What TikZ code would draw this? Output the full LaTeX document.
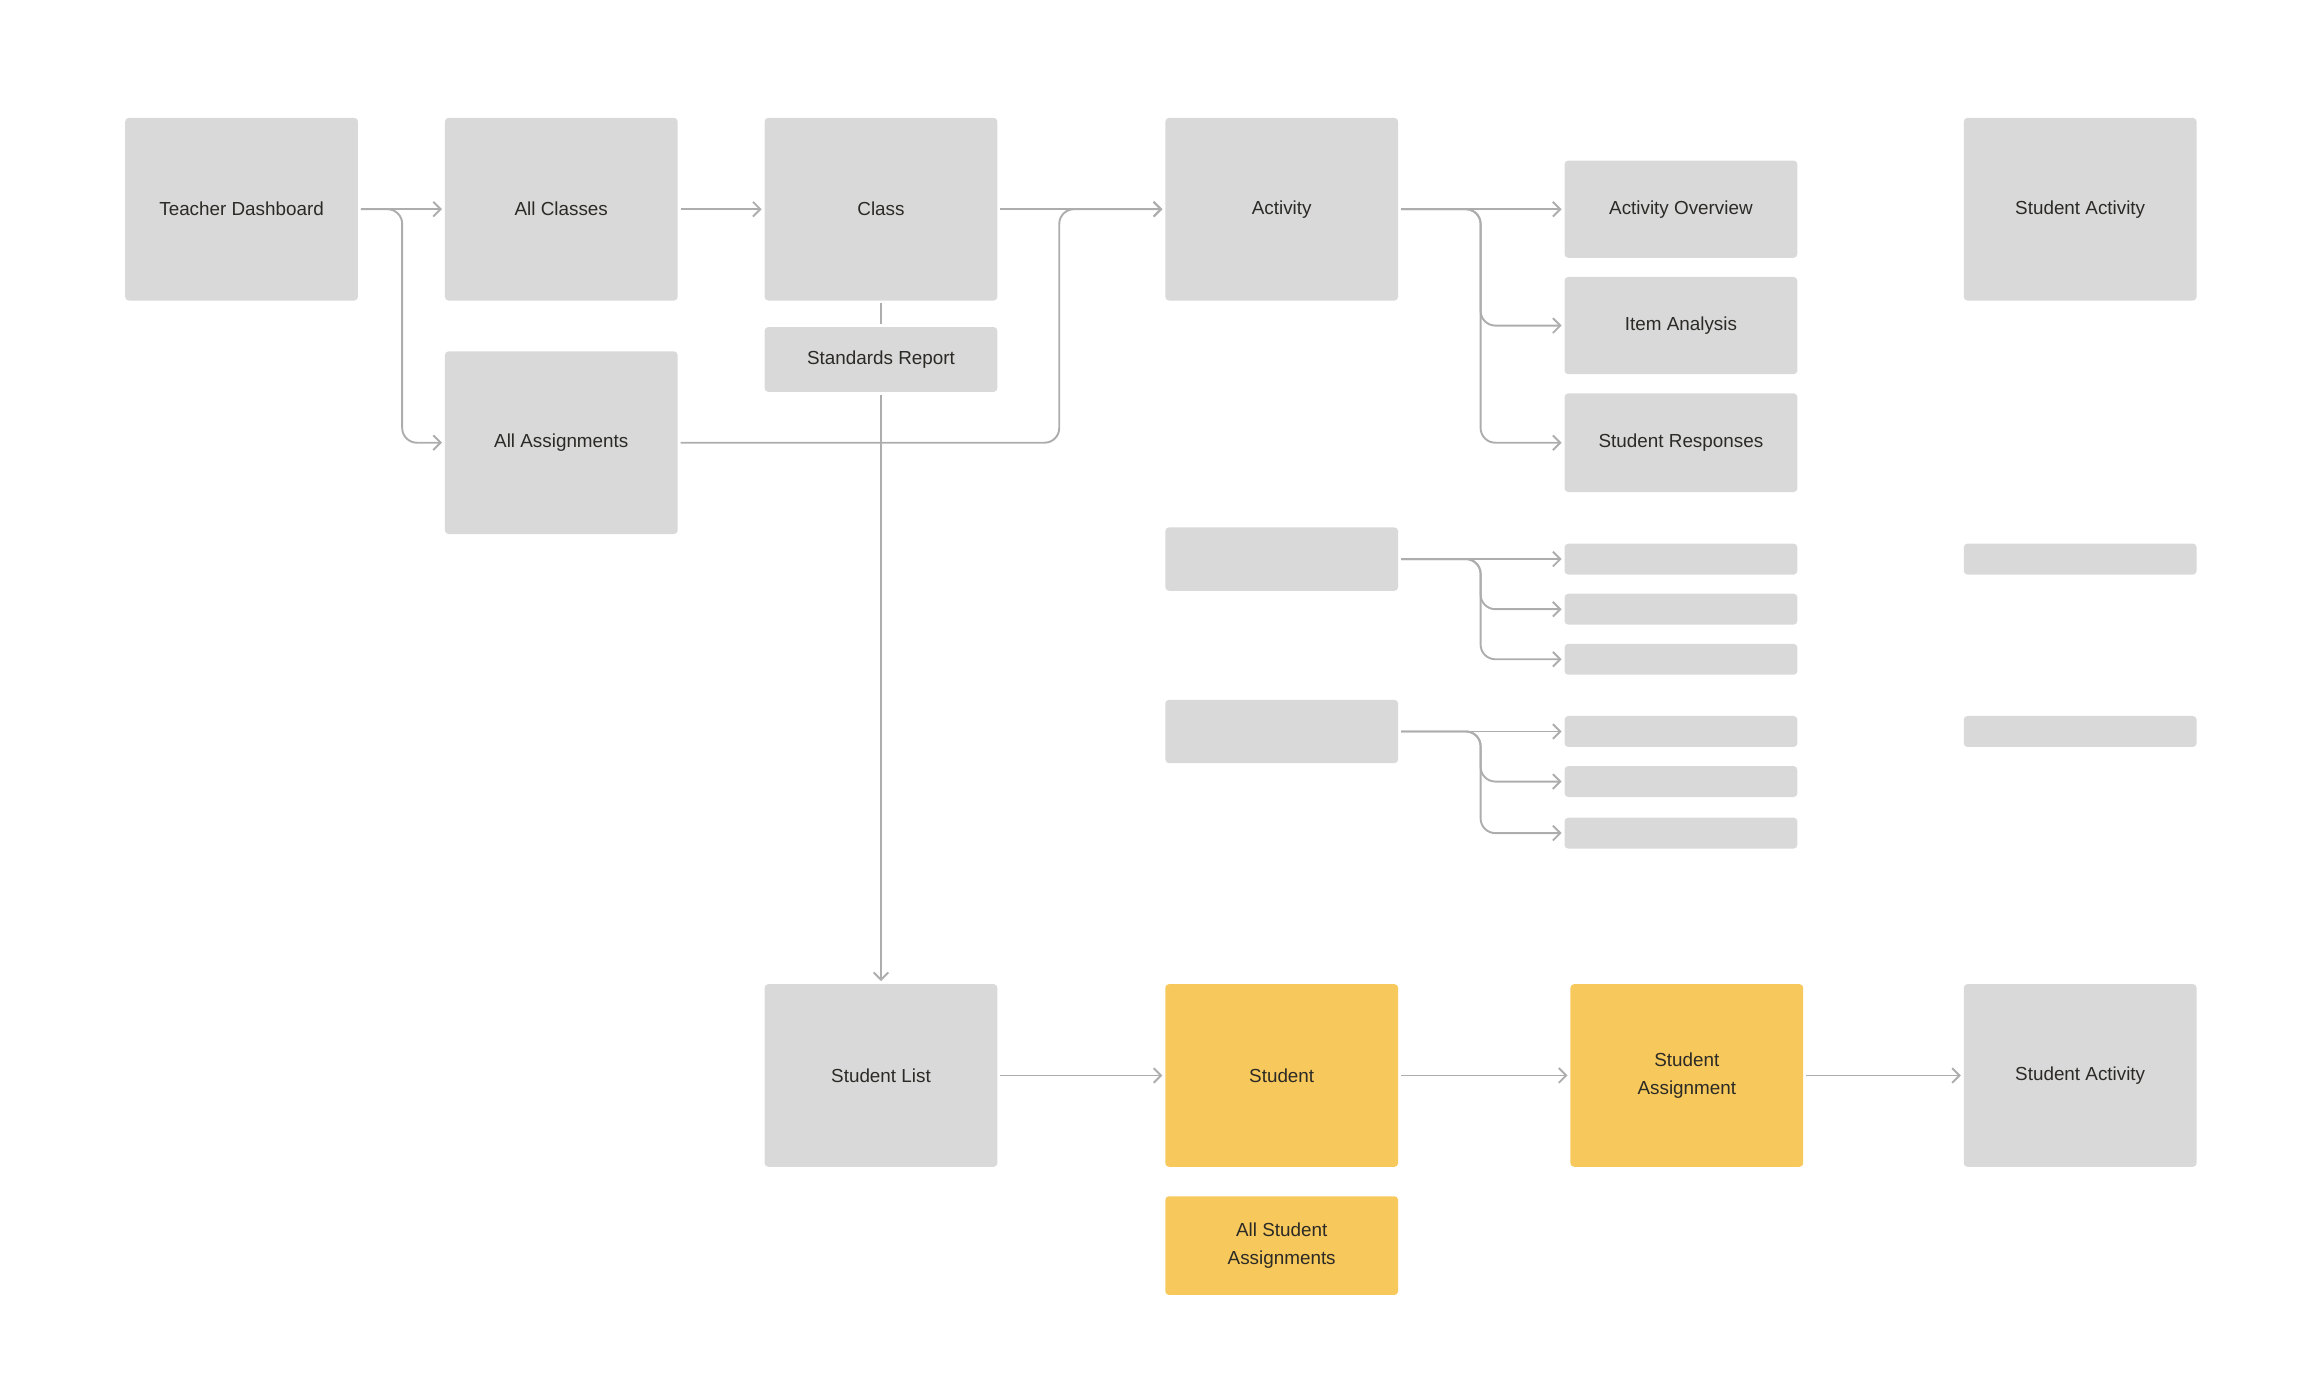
\documentclass[tikz,border=0pt]{standalone}
\usepackage{fontspec}
\setmainfont{Liberation Sans}
\usepackage{tikz}
\usetikzlibrary{arrows.meta}
\definecolor{boxgrey}{HTML}{D9D9D9}
\definecolor{boxyellow}{HTML}{F7C95C}
\definecolor{linegrey}{HTML}{ADADAD}
\definecolor{textdark}{HTML}{2B2A26}
\tikzset{
% Screen boxes: grey, highlighted and empty stubs
grey node/.style={rectangle,rounded corners=2.5pt,fill=boxgrey,minimum width=158pt,minimum height=124pt,outer sep=2pt,align=center,text=textdark},
yellow node/.style={grey node,fill=boxyellow},
stub node/.style={grey node,minimum height=21pt},
link/.style={draw=linegrey,line width=1.3pt,rounded corners=10pt,-{Straight Barb[length=5pt,width=10pt]}}
}

\begin{document}
\begin{tikzpicture}[x=1pt,y=-1pt,font=\fontsize{12.8}{19}\selectfont]
\useasboundingbox (0,0) rectangle (1568,945);
\node[grey node] (TD) at (164,142) {Teacher Dashboard};
\node[grey node] (AC) at (381,142) {All Classes};
\node[grey node] (AA) at (381,300.5) {All Assignments};
\node[grey node] (Cls) at (598,142) {Class};
\node[grey node,minimum height=44pt] (SRep) at (598,244) {Standards Report};
\node[grey node] (Act) at (870,142) {Activity};
\node[grey node,minimum height=66pt] (AO) at (1141,142) {Activity Overview};
\node[grey node,minimum height=66pt] (IA) at (1141,221) {Item Analysis};
\node[grey node,minimum height=67pt] (SResp) at (1141,300.5) {Student Responses};
\node[grey node] (SAct) at (1412,142) {Student Activity};

\node[grey node,minimum height=43pt] (P1) at (870,379.5) {};
\node[stub node] (P1a) at (1141,379.5) {};
\node[stub node] (P1b) at (1141,413.5) {};
\node[stub node] (P1c) at (1141,447.5) {};
\node[stub node] (P1r) at (1412,379.5) {};

\node[grey node,minimum height=43pt] (P2) at (870,496.5) {};
\node[stub node] (P2a) at (1141,496.5) {};
\node[stub node] (P2b) at (1141,530.5) {};
\node[stub node] (P2c) at (1141,565.5) {};
\node[stub node] (P2r) at (1412,496.5) {};

\node[grey node] (SL) at (598,730) {Student List};
\node[yellow node] (Stu) at (870,730) {Student};
\node[yellow node] (SAsg) at (1145,730) {Student\\Assignment};
\node[grey node] (SAct2) at (1412,730) {Student Activity};
\node[yellow node,minimum height=67pt] (ASA) at (870,845.5) {All Student\\Assignments};

\draw[link] (TD.east) -- (AC.west);
\draw[link] (TD.east) -- ++(28,0) |- (AA.west);
\draw[link] (AC.east) -- (Cls.west);
\draw[link] (Cls.east) -- (Act.west);
\draw[link] (AA.east) -| ([xshift=-70pt]Act.west) -- (Act.west);
\draw[link,-] (Cls.south) -- (SRep.north);
\draw[link] (SRep.south) -- (SL.north);

\draw[link] (Act.east) -- (AO.west);
\draw[link] (Act.east) -- ++(54,0) |- (IA.west);
\draw[link] (Act.east) -- ++(54,0) |- (SResp.west);

\draw[link] (P1.east) -- (P1a.west);
\draw[link] (P1.east) -- ++(54,0) |- (P1b.west);
\draw[link] (P1.east) -- ++(54,0) |- (P1c.west);
\draw[link] (P2.east) -- (P2a.west);
\draw[link] (P2.east) -- ++(54,0) |- (P2b.west);
\draw[link] (P2.east) -- ++(54,0) |- (P2c.west);

\draw[link] (SL.east) -- (Stu.west);
\draw[link] (Stu.east) -- (SAsg.west);
\draw[link] (SAsg.east) -- (SAct2.west);
\end{tikzpicture}
\end{document}
